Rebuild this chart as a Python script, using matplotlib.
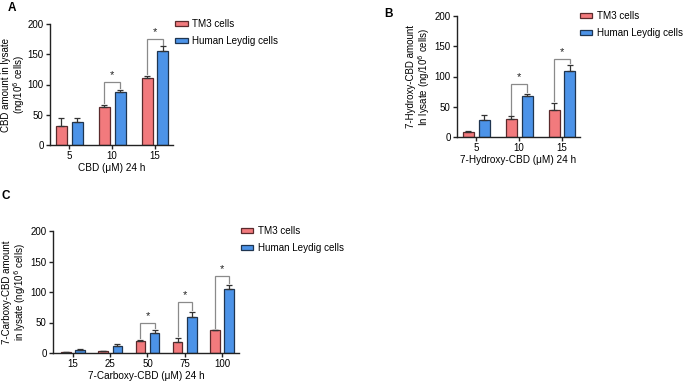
import matplotlib
matplotlib.use("Agg")
import matplotlib.pyplot as plt
import numpy as np
from matplotlib.patches import Patch

plt.rcParams['font.family'] = ['Liberation Sans', 'DejaVu Sans']

series_names = ["TM3 cells", "Human Leydig cells"]

# Panel A
a_cats = ["5", "10", "15"]
a_tm3 = [32, 62, 110]
a_tm3_err = [12, 4, 4.6]
a_hl = [38.6, 87.6, 155]
a_hl_err = [6.4, 3.4, 8]
a_sig_groups = [1, 2]
a_sig_tops = [103.6, 175]

# Panel B
b_cats = ["5", "10", "15"]
b_tm3 = [8.3, 29, 44]
b_tm3_err = [1.1, 5, 13]
b_hl = [27.5, 68, 109]
b_hl_err = [9.5, 3, 10]
b_sig_groups = [1, 2]
b_sig_tops = [87, 129]

# Panel C
c_cats = ["15", "25", "50", "75", "100"]
c_tm3 = [1.1, 3.3, 20, 18, 37]
c_tm3_err = [0.3, 0.7, 1, 7, 1]
c_hl = [4.4, 12, 32, 59, 105]
c_hl_err = [1.6, 3, 6, 9, 6]
c_sig_groups = [2, 3, 4]
c_sig_tops = [49, 83, 126]

RED = "#F27A7D"
RED_EDGE = "#5a2a2c"
BLUE = "#4C93E8"
BLUE_EDGE = "#1f3550"

W, H = 685, 383
fig = plt.figure(figsize=(W / 100, H / 100), dpi=100)


def px_axes(x0, y0, x1, y1):
    return fig.add_axes([x0 / W, 1 - y1 / H, (x1 - x0) / W, (y1 - y0) / H])


def panel(ax, cats, tm3, tm3e, hl, hle, sig_groups, sig_tops, xlabel, ylabel,
          width, offset, xlim, leg_anchor, ylab_x):
    x = np.arange(len(cats))
    for vals, errs, pos, fc, ec in ((tm3, tm3e, x - offset, RED, RED_EDGE),
                                     (hl, hle, x + offset, BLUE, BLUE_EDGE)):
        ax.bar(pos, vals, width=width, color=fc, edgecolor=ec, linewidth=0.9, zorder=2)
        ax.errorbar(pos, vals, yerr=[np.zeros(len(vals)), errs], fmt='none',
                    ecolor='#333333', elinewidth=0.9, capsize=2.5, capthick=0.9, zorder=3)
    for g, top in zip(sig_groups, sig_tops):
        lr = tm3[g] + tm3e[g] + 3
        lb = hl[g] + hle[g] + 3
        ax.plot([x[g] - offset, x[g] - offset, x[g] + offset, x[g] + offset],
                [lr, top, top, lb], color='#8a8a8a', lw=0.9, zorder=1,
                solid_joinstyle='miter')
        ax.annotate('*', (x[g], top), xytext=(0, 1.5), textcoords='offset points',
                    ha='center', va='bottom', fontsize=8, color='#222222')
    ax.set_ylim(0, 200)
    ax.set_yticks([0, 50, 100, 150, 200])
    ax.set_xlim(*xlim)
    ax.set_xticks(x)
    ax.set_xticklabels(cats)
    ax.spines['top'].set_visible(False)
    ax.spines['right'].set_visible(False)
    for s in ('left', 'bottom'):
        ax.spines[s].set_linewidth(1.0)
        ax.spines[s].set_color('#222222')
    ax.tick_params(axis='both', labelsize=7, width=1.0, length=3, color='#222222', pad=1.5)
    ax.set_xlabel(xlabel, fontsize=7.2, labelpad=1)
    ax.set_ylabel(ylabel, fontsize=7.0, linespacing=1.05, va='center')
    ax.yaxis.set_label_coords(ylab_x, 0.5)
    handles = [Patch(facecolor=RED, edgecolor=RED_EDGE, linewidth=0.9),
               Patch(facecolor=BLUE, edgecolor=BLUE_EDGE, linewidth=0.9)]
    ax.legend(handles, series_names, loc='upper left', bbox_to_anchor=leg_anchor,
              frameon=False, fontsize=7.1, handlelength=1.25, handleheight=0.45,
              handletextpad=0.45, labelspacing=0.7, borderpad=0, borderaxespad=0)


axA = px_axes(50, 24, 173, 145)
panel(axA, a_cats, a_tm3, a_tm3_err, a_hl, a_hl_err, a_sig_groups, a_sig_tops,
      "CBD (μM) 24 h", "CBD amount in lysate\n(ng/10$^6$ cells)",
      0.256, 0.186, (-0.45, 2.42), (1.02, 1.04), -0.295)

axB = px_axes(457, 16, 580, 137)
panel(axB, b_cats, b_tm3, b_tm3_err, b_hl, b_hl_err, b_sig_groups, b_sig_tops,
      "7-Hydroxy-CBD (μM) 24 h", "7-Hydroxy-CBD amount\nIn lysate (ng/10$^6$ cells)",
      0.256, 0.186, (-0.45, 2.42), (1.0, 1.04), -0.31)

axC = px_axes(53, 231, 239, 353)
panel(axC, c_cats, c_tm3, c_tm3_err, c_hl, c_hl_err, c_sig_groups, c_sig_tops,
      "7-Carboxy-CBD (μM) 24 h", "7-Carboxy-CBD amount\nin lysate (ng/10$^6$ cells)",
      0.26, 0.19, (-0.54, 4.46), (1.01, 1.04), -0.205)

fig.text(8 / W, 1 - 8 / H, "A", fontsize=8.5, fontweight='bold', va='center', ha='left')
fig.text(384 / W, 1 - 14 / H, "B", fontsize=8.5, fontweight='bold', va='center', ha='left')
fig.text(2 / W, 1 - 196 / H, "C", fontsize=8.5, fontweight='bold', va='center', ha='left')

fig.savefig("out.png", dpi=100)
